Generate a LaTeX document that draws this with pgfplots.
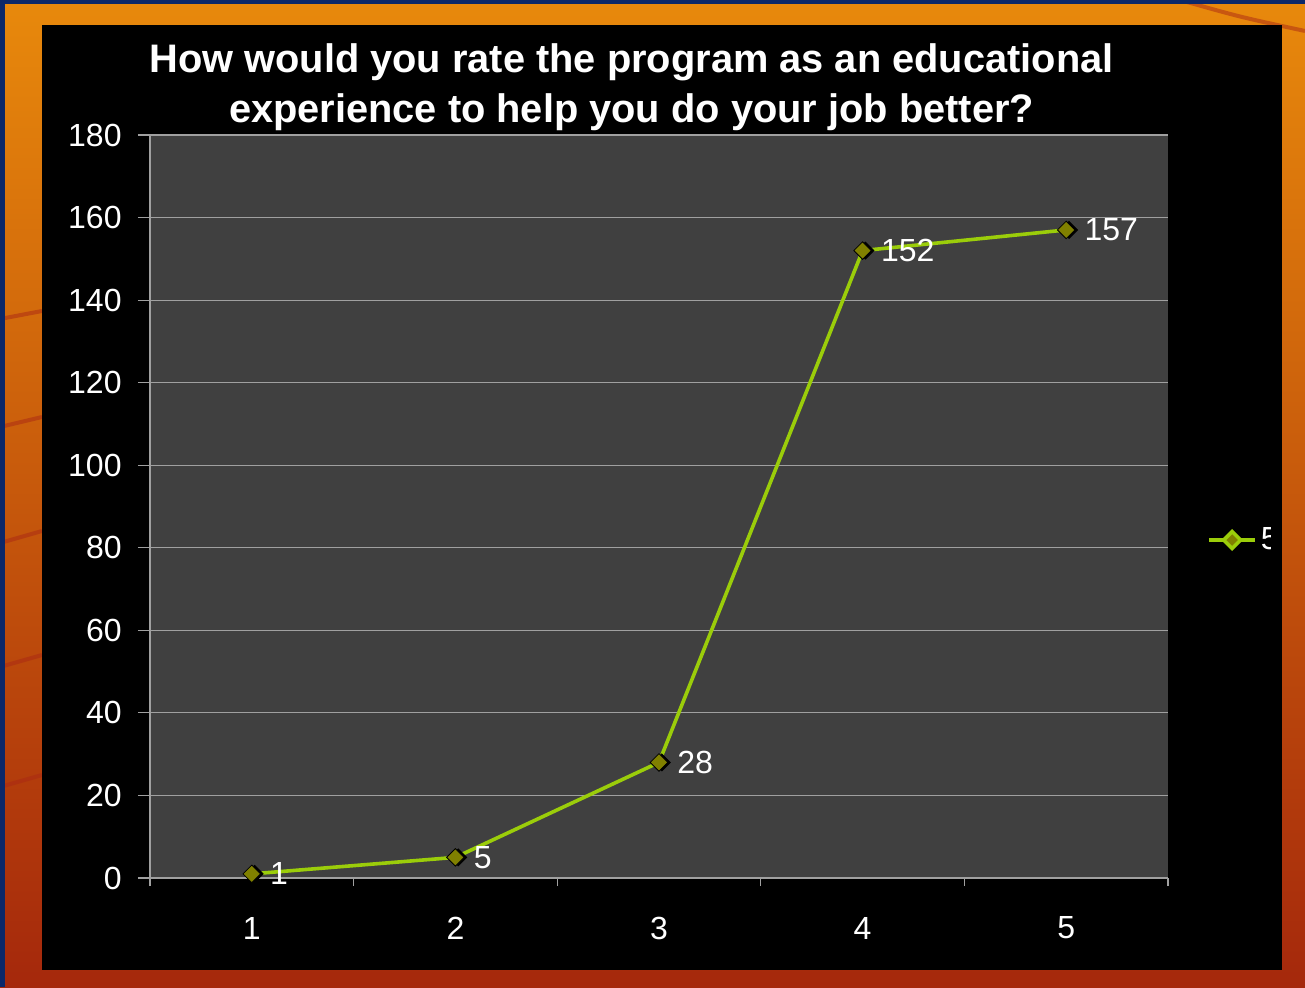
\documentclass[border=0pt]{standalone}
\usepackage{fontspec}
\setmainfont{Liberation Sans}
\usepackage{pgfplots}
\pgfplotsset{compat=1.18}
\usepackage{pgfplotstable}
\definecolor{bgblue}{RGB}{12,40,105}
\definecolor{orangetop}{RGB}{232,137,12}
\definecolor{orangemid}{RGB}{205,95,14}
\definecolor{redbot}{RGB}{165,40,12}
\definecolor{streak}{RGB}{170,40,20}
\definecolor{plotgray}{RGB}{64,64,64}
\definecolor{gridgray}{RGB}{160,160,160}
\definecolor{linegreen}{RGB}{155,205,10}
\definecolor{markolive}{RGB}{128,128,0}

\pgfplotstableread{
x y
1 1
2 5
3 28
4 152
5 157
}\datatable

\begin{document}
\begin{tikzpicture}[x=1pt,y=1pt]
\useasboundingbox (0,0) rectangle (652.5,493.5);
\shade[top color=orangetop, middle color=orangemid, bottom color=redbot] (0,0) rectangle (652.5,493.5);
\begin{scope}[opacity=0.5, line width=2pt, draw=streak]
\draw (0,334) -- (21,338);
\draw (0,280) -- (21,285);
\draw (0,222) -- (21,228);
\draw (0,160) -- (21,166);
\draw (0,100) -- (21,106);
\draw (590,493.5) .. controls (620,485) .. (652.5,478);
\end{scope}
\fill[bgblue] (0,0) rectangle (2.5,493.5);
\fill[bgblue] (0,491.5) rectangle (652.5,493.5);
\fill[black] (21,8.5) rectangle (641,481);
\begin{axis}[
  at={(75pt,54.5pt)}, anchor=south west,
  scale only axis, width=509pt, height=371.5pt,
  xmin=0.5, xmax=5.5, ymin=0, ymax=180,
  axis background/.style={fill=plotgray},
  axis lines*=left,
  axis line style={-, draw=gridgray, line width=0.6pt},
  xtick={1,2,3,4,5},
  ytick={0,20,...,180},
  minor xtick={0.5,1.5,...,5.5},
  tick align=outside,
  major tick length=6pt,
  minor tick length=4pt,
  major x tick style={draw=none},
  minor x tick style={draw=gridgray, line width=0.6pt},
  major y tick style={draw=gridgray, line width=0.6pt},
  ymajorgrids,
  major y grid style={draw=gridgray, line width=0.6pt},
  /pgf/number format/assume math mode=true,
  ticklabel style={font=\fontsize{16}{19}\selectfont, text=white},
  yticklabel style={anchor=east, inner sep=0pt, xshift=-8pt},
  xticklabel style={anchor=center, inner sep=0pt, yshift=-19pt},
  legend style={at={(1.0383,0.4549)}, anchor=west, draw=none, fill=none,
    text=white, font=\fontsize{16}{19}\selectfont, inner sep=0pt},
  legend image code/.code={\draw[mark repeat=2,mark phase=2] plot coordinates {(0pt,0pt) (11.5pt,0pt) (23pt,0pt)};},
  clip=false,
]
\addplot[linegreen, line width=1.8pt, no marks, forget plot] table[x=x,y=y] {\datatable};
\addplot[only marks, mark=square*, mark size=3pt, mark options={rotate=45, fill=black, draw=none, xshift=1pt, yshift=-1pt}, forget plot] table[x=x,y=y] {\datatable};
\addplot[only marks, mark=square*, mark size=3.1pt, mark options={rotate=45, fill=markolive, draw=none}, forget plot,
  nodes near coords={\pgfmathprintnumber{\pgfplotspointmeta}},
  every node near coord/.style={anchor=west, xshift=9pt, inner sep=0pt, text=white, font=\fontsize{16}{19}\selectfont}
  ] table[x=x,y=y] {\datatable};
\addlegendimage{linegreen, line width=1.8pt, mark=square*, mark size=3pt, mark options={rotate=45, fill=markolive, draw=none}}
\addlegendentry{5}
\end{axis}
\fill[black] (635.5,210) rectangle (641,237);
\node[anchor=base, text=white, font=\fontsize{19.9}{25}\selectfont\bfseries, inner sep=0pt] at (315.75,457) {How would you rate the program as an educational};
\node[anchor=base, text=white, font=\fontsize{19.9}{25}\selectfont\bfseries, inner sep=0pt] at (315.75,432) {experience to help you do your job better?};
\end{tikzpicture}
\end{document}
